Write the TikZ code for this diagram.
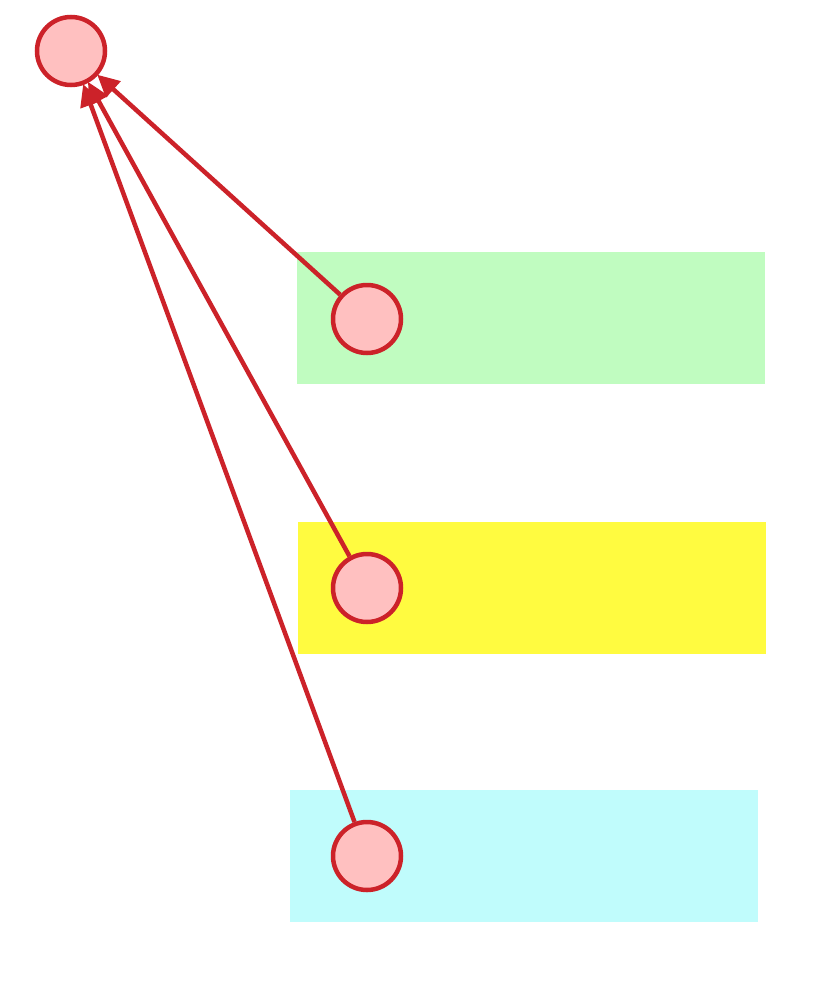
\documentclass[tikz,border=0pt]{standalone}
\usepackage{tikz}
\usetikzlibrary{positioning,arrows.meta}

\definecolor{dotred}{HTML}{CC2229}
\definecolor{dotpink}{HTML}{FFC0C0}
\definecolor{bandgreen}{HTML}{C0FCC0}
\definecolor{bandyellow}{HTML}{FFFB40}
\definecolor{bandcyan}{HTML}{C0FCFC}

\begin{document}
\begin{tikzpicture}[x=1pt, y=-1pt]
  \tikzset{
    band/.style={rectangle, minimum width=468pt, minimum height=132pt, inner sep=0pt},
    dot/.style={draw=dotred, fill=dotpink, circle, line width=4.5pt, minimum size=68pt, inner sep=0pt},
    link/.style={draw=dotred, line width=4.5pt, -{Triangle[length=22pt, width=21pt]}, shorten >=-1pt}
  }

  \fill[white] (0,0) rectangle (820,982);
  \useasboundingbox (0,0) rectangle (820,982);

  \node[band, fill=bandgreen] (green) at (531,318) {};
  \node[band, fill=bandyellow] (yellow) at (531.5,588) {};
  \node[band, fill=bandcyan] (cyan) at (524,856) {};

  \node[dot] (top) at (71,51) {};
  \node[dot] (first) at (367,319) {};
  \node[dot] (second) at (367,588) {};
  \node[dot] (third) at (367,856) {};

  \draw[link] (first) -- (top);
  \draw[link] (second) -- (top);
  \draw[link] (third) -- (top);
\end{tikzpicture}
\end{document}
